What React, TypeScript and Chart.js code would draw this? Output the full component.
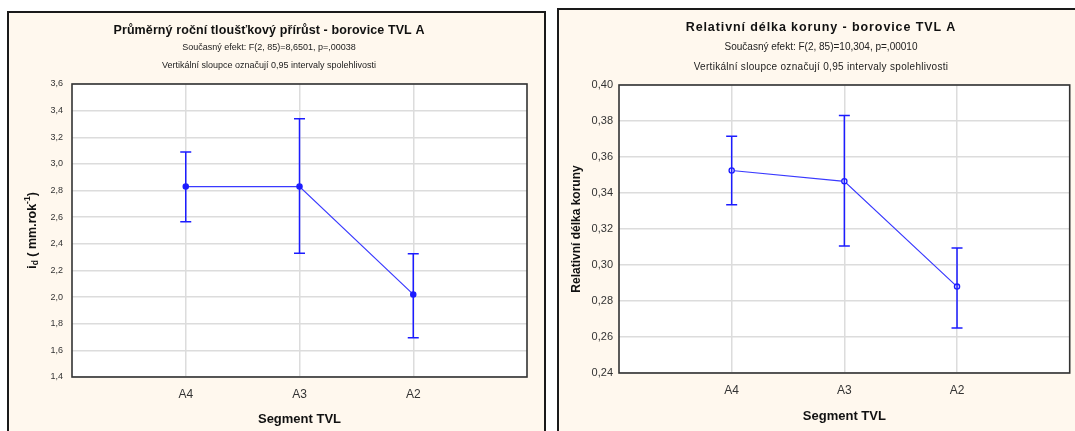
import React, { useEffect, useRef } from 'react';
import Chart from 'chart.js/auto';

// Categories on the x axis (positions 1..3 on a 0..4 linear scale)
const segments = ['A4', 'A3', 'A2'];

// Mean annual diameter increment with 0.95 confidence limits
const incrementMean = [2.83, 2.83, 2.02];
const incrementLow = [2.565, 2.33, 1.695];
const incrementHigh = [3.09, 3.34, 2.325];

// Relative crown length with 0.95 confidence limits
const crownMean = [0.3525, 0.3465, 0.288];
const crownLow = [0.3335, 0.3105, 0.265];
const crownHigh = [0.3715, 0.383, 0.3095];

const leftHeader = [
  'Průměrný roční tloušťkový přírůst - borovice TVL A',
  'Současný efekt: F(2, 85)=8,6501, p=,00038',
  'Vertikální sloupce označují 0,95 intervaly spolehlivosti',
];
const rightHeader = [
  'Relativní délka koruny - borovice TVL A',
  'Současný efekt: F(2, 85)=10,304, p=,00010',
  'Vertikální sloupce označují 0,95 intervaly spolehlivosti',
];
const xTitle = 'Segment TVL';
const rightYTitle = 'Relativní délka koruny';

const FONT = '"Liberation Sans", Arial, sans-serif';
const BLUE = '#1c1cff';
const LINE_BLUE = '#3a3aff';
const GRID = '#dcdcdc';
const FRAME = '#333333';

type HeaderLine = { text: string; size: number; bold?: boolean; y: number; spacing?: number };

const plotBackground = {
  id: 'plotBackground',
  beforeDraw(chart: any) {
    const { ctx, chartArea: a } = chart;
    ctx.save();
    ctx.fillStyle = '#ffffff';
    ctx.fillRect(a.left, a.top, a.width, a.height);
    ctx.restore();
  },
  beforeDatasetsDraw(chart: any) {
    const { ctx, chartArea: a } = chart;
    ctx.save();
    ctx.strokeStyle = FRAME;
    ctx.lineWidth = 1.6;
    ctx.strokeRect(a.left, a.top, a.width, a.height);
    ctx.restore();
  },
};

function headerPlugin(centerX: number, lines: HeaderLine[]) {
  return {
    id: 'headerText',
    afterDraw(chart: any) {
      const { ctx } = chart;
      ctx.save();
      ctx.textAlign = 'center';
      ctx.textBaseline = 'middle';
      for (const l of lines) {
        ctx.font = `${l.bold ? 'bold ' : ''}${l.size}px ${FONT}`;
        ctx.letterSpacing = `${l.spacing ?? 0}px`;
        ctx.fillStyle = l.bold ? '#111' : '#222';
        ctx.fillText(l.text, centerX, l.y);
      }
      ctx.restore();
    },
  };
}

function errorBarPlugin(low: number[], high: number[]) {
  return {
    id: 'errorBars',
    afterDatasetsDraw(chart: any) {
      const { ctx, scales } = chart;
      const xs = scales.x;
      const ys = scales.y;
      const cap = 5.5;
      ctx.save();
      ctx.strokeStyle = BLUE;
      ctx.lineWidth = 1.5;
      low.forEach((lo, i) => {
        const x = xs.getPixelForValue(i + 1);
        const yl = ys.getPixelForValue(lo);
        const yh = ys.getPixelForValue(high[i]);
        ctx.beginPath();
        ctx.moveTo(x, yl);
        ctx.lineTo(x, yh);
        ctx.moveTo(x - cap, yl);
        ctx.lineTo(x + cap, yl);
        ctx.moveTo(x - cap, yh);
        ctx.lineTo(x + cap, yh);
        ctx.stroke();
      });
      ctx.restore();
    },
  };
}

// Rotated y-axis title "i_d ( mm.rok^-1 )" with subscript and superscript
function incrementAxisTitle(centerX: number) {
  const parts = [
    { t: 'i', size: 12.5, dy: 0 },
    { t: 'd', size: 8.5, dy: 3 },
    { t: ' ( mm.rok', size: 12.5, dy: 0 },
    { t: '-1', size: 8.5, dy: -5 },
    { t: ')', size: 12.5, dy: 0 },
  ];
  return {
    id: 'incrementAxisTitle',
    afterDraw(chart: any) {
      const { ctx, chartArea: a } = chart;
      ctx.save();
      ctx.fillStyle = '#111';
      ctx.textBaseline = 'middle';
      ctx.textAlign = 'left';
      let total = 0;
      const widths = parts.map((p) => {
        ctx.font = `bold ${p.size}px ${FONT}`;
        const w = ctx.measureText(p.t).width;
        total += w;
        return w;
      });
      ctx.translate(centerX, (a.top + a.bottom) / 2);
      ctx.rotate(-Math.PI / 2);
      let x = -total / 2;
      parts.forEach((p, i) => {
        ctx.font = `bold ${p.size}px ${FONT}`;
        ctx.fillText(p.t, x, p.dy);
        x += widths[i];
      });
      ctx.restore();
    },
  };
}

type PanelSpec = {
  left: number;
  top: number;
  width: number;
  height: number;
  canvasW: number;
  canvasH: number;
  area: { left: number; right: number; top: number; bottom: number };
  mean: number[];
  low: number[];
  high: number[];
  yMin: number;
  yMax: number;
  yStep: number;
  decimals: number;
  yTickSize: number;
  yTickPad: number;
  yTitle?: string;
  xTitlePad: number;
  header: HeaderLine[];
  headerX: number;
  hollowPoints: boolean;
  extraPlugins: any[];
};

function Panel({ spec }: { spec: PanelSpec }) {
  const ref = useRef<HTMLCanvasElement>(null);
  useEffect(() => {
    if (!ref.current) return;
    const s = spec;
    const chart = new Chart(ref.current, {
      type: 'line',
      data: {
        datasets: [
          {
            data: s.mean.map((v, i) => ({ x: i + 1, y: v })),
            borderColor: LINE_BLUE,
            borderWidth: 1.2,
            pointRadius: 2.6,
            pointBorderWidth: 1.3,
            pointBorderColor: BLUE,
            pointBackgroundColor: s.hollowPoints ? '#e8e8ff' : BLUE,
            tension: 0,
          },
        ],
      },
      options: {
        responsive: false,
        animation: false,
        devicePixelRatio: 1,
        layout: {
          padding: { top: s.area.top, left: 0, right: s.canvasW - s.area.right, bottom: 0 },
        },
        plugins: { legend: { display: false }, tooltip: { enabled: false } },
        scales: {
          x: {
            type: 'linear',
            min: 0,
            max: 4,
            afterBuildTicks: (sc: any) => {
              sc.ticks = segments.map((_, i) => ({ value: i + 1 }));
            },
            afterFit: (sc: any) => {
              sc.height = s.canvasH - s.area.bottom;
            },
            grid: { color: GRID, lineWidth: 1.5, drawTicks: false },
            border: { display: false },
            ticks: {
              padding: 10,
              color: '#333',
              font: { family: FONT, size: 12 },
              callback: (v: any) => segments[Math.round(Number(v)) - 1] ?? '',
            },
            title: {
              display: true,
              text: xTitle,
              color: '#111',
              font: { family: FONT, size: 13, weight: 'bold' },
              padding: { top: 0, bottom: s.xTitlePad },
            },
          },
          y: {
            type: 'linear',
            min: s.yMin,
            max: s.yMax,
            afterFit: (sc: any) => {
              sc.width = s.area.left;
            },
            grid: { color: GRID, lineWidth: 1.5, drawTicks: false },
            border: { display: false },
            ticks: {
              stepSize: s.yStep,
              padding: s.yTickPad,
              color: '#333',
              font: { family: FONT, size: s.yTickSize },
              callback: (v: any) => Number(v).toFixed(s.decimals).replace('.', ','),
            },
            title: s.yTitle
              ? {
                  display: true,
                  text: s.yTitle,
                  color: '#111',
                  font: { family: FONT, size: 12, weight: 'bold' },
                  padding: { top: 10.8, bottom: 0 },
                }
              : { display: false },
          },
        },
      } as any,
      plugins: [
        plotBackground,
        errorBarPlugin(s.low, s.high),
        headerPlugin(s.headerX, s.header),
        ...s.extraPlugins,
      ],
    });
    return () => chart.destroy();
  }, [spec]);

  return (
    <div
      style={{
        position: 'absolute',
        left: spec.left,
        top: spec.top,
        width: spec.width,
        height: spec.height,
        border: '2px solid #1a1a1a',
        background: '#FFF8EE',
        overflow: 'hidden',
      }}
    >
      <canvas
        ref={ref}
        width={spec.canvasW}
        height={spec.canvasH}
        style={{ display: 'block', width: spec.canvasW, height: spec.canvasH }}
      />
    </div>
  );
}

const leftSpec: PanelSpec = {
  left: 7,
  top: 11,
  width: 535,
  height: 440,
  canvasW: 535,
  canvasH: 420,
  area: { left: 63, right: 518, top: 71, bottom: 364 },
  mean: incrementMean,
  low: incrementLow,
  high: incrementHigh,
  yMin: 1.4,
  yMax: 3.6,
  yStep: 0.2,
  decimals: 1,
  yTickSize: 9,
  yTickPad: 9,
  xTitlePad: 6.2,
  header: [
    { text: leftHeader[0], size: 12.5, bold: true, y: 18, spacing: 0.1 },
    { text: leftHeader[1], size: 9, y: 34.5 },
    { text: leftHeader[2], size: 9, y: 53 },
  ],
  headerX: 260,
  hollowPoints: false,
  extraPlugins: [incrementAxisTitle(24)],
};

const rightSpec: PanelSpec = {
  left: 557,
  top: 8,
  width: 540,
  height: 440,
  canvasW: 516,
  canvasH: 421,
  area: { left: 60, right: 513, top: 75, bottom: 363 },
  mean: crownMean,
  low: crownLow,
  high: crownHigh,
  yMin: 0.24,
  yMax: 0.4,
  yStep: 0.02,
  decimals: 2,
  yTickSize: 11,
  yTickPad: 6,
  yTitle: rightYTitle,
  xTitlePad: 7.2,
  header: [
    { text: rightHeader[0], size: 12.5, bold: true, y: 18, spacing: 0.9 },
    { text: rightHeader[1], size: 10, y: 37.5 },
    { text: rightHeader[2], size: 10, y: 57, spacing: 0.3 },
  ],
  headerX: 262,
  hollowPoints: true,
  extraPlugins: [],
};

export default function App() {
  return (
    <div
      style={{
        position: 'fixed',
        left: 0,
        top: 0,
        width: 1075,
        height: 431,
        background: '#ffffff',
        overflow: 'hidden',
      }}
    >
      <Panel spec={leftSpec} />
      <Panel spec={rightSpec} />
    </div>
  );
}
